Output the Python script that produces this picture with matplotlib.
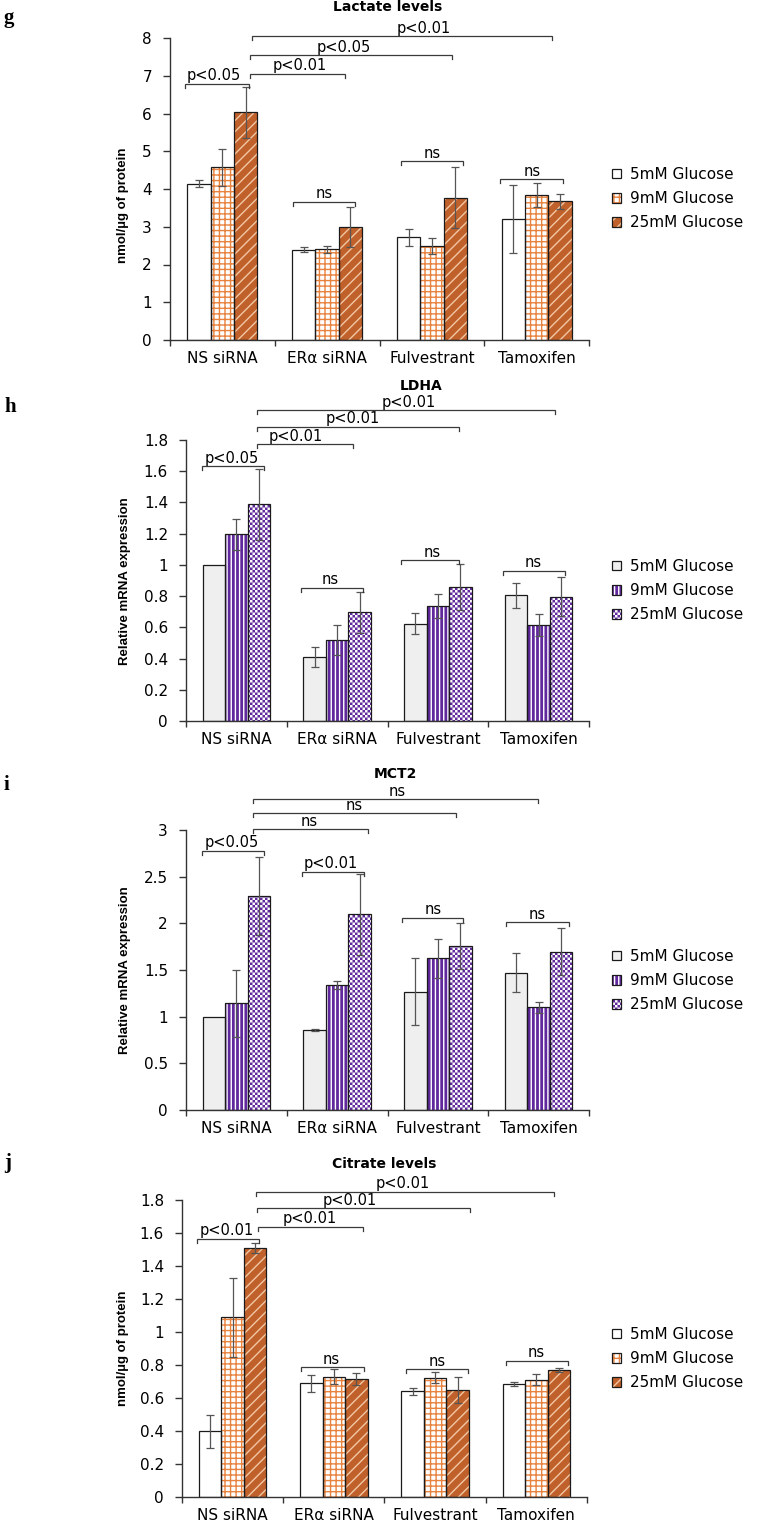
import numpy as np
import matplotlib
matplotlib.use('Agg')
import matplotlib.pyplot as plt
from matplotlib import hatch as mhatch
from matplotlib.path import Path
from matplotlib.legend_handler import HandlerTuple

# ---------------- data ----------------
categories = ['NS siRNA', 'ERα siRNA', 'Fulvestrant', 'Tamoxifen']
series_names = ['5mM Glucose', '9mM Glucose', '25mM Glucose']
nan = np.nan

lactate_5 = [4.14, 2.39, 2.72, 3.21]
lactate_9 = [4.57, 2.40, 2.50, 3.84]
lactate_25 = [6.03, 2.99, 3.77, 3.67]
lactate_5_err = [0.10, 0.07, 0.22, 0.90]
lactate_9_err = [0.49, 0.10, 0.21, 0.31]
lactate_25_err = [0.68, 0.52, 0.80, 0.20]
lactate_ticks = [0, 1, 2, 3, 4, 5, 6, 7, 8]
lactate_brackets = [(-0.358, 0.256, 6.79, 'p<0.05', -0.078),
                    (0.263, 1.17, 7.05, 'p<0.01', 0.734),
                    (0.263, 2.19, 7.54, 'p<0.05', 1.16),
                    (0.279, 3.15, 8.04, 'p<0.01', 1.925),
                    (0.677, 1.266, 3.66, 'ns', 0.97),
                    (1.71, 2.30, 4.74, 'ns', 2.0),
                    (2.65, 3.25, 4.26, 'ns', 2.96)]

ldha_5 = [1.00, 0.41, 0.624, 0.805]
ldha_9 = [1.197, 0.517, 0.737, 0.617]
ldha_25 = [1.387, 0.696, 0.857, 0.795]
ldha_5_err = [nan, 0.066, 0.068, 0.08]
ldha_9_err = [0.10, 0.097, 0.077, 0.071]
ldha_25_err = [0.23, 0.13, 0.146, 0.125]
ldha_ticks = [0, 0.2, 0.4, 0.6, 0.8, 1.0, 1.2, 1.4, 1.6, 1.8]
ldha_brackets = [(-0.344, 0.275, 1.632, 'p<0.05', -0.046),
                 (0.209, 1.162, 1.774, 'p<0.01', 0.593),
                 (0.209, 2.21, 1.885, 'p<0.01', 1.152),
                 (0.209, 3.16, 1.99, 'p<0.01', 1.715),
                 (0.639, 1.255, 0.855, 'ns', 0.93),
                 (1.636, 2.205, 1.03, 'ns', 1.94),
                 (2.646, 3.265, 0.962, 'ns', 2.95)]

mct2_5 = [1.0, 0.857, 1.268, 1.471]
mct2_9 = [1.143, 1.34, 1.625, 1.10]
mct2_25 = [2.296, 2.096, 1.76, 1.696]
mct2_5_err = [nan, 0.01, 0.36, 0.21]
mct2_9_err = [0.357, 0.043, 0.21, 0.06]
mct2_25_err = [0.42, 0.43, 0.245, 0.25]
mct2_ticks = [0, 0.5, 1, 1.5, 2, 2.5, 3]
mct2_brackets = [(-0.344, 0.275, 2.779, 'p<0.05', -0.046),
                 (0.649, 1.262, 2.554, 'p<0.01', 0.94),
                 (0.169, 1.305, 3.007, 'ns', 0.725),
                 (0.169, 2.18, 3.18, 'ns', 1.17),
                 (0.162, 2.99, 3.33, 'ns', 1.6),
                 (1.64, 2.245, 2.06, 'ns', 1.95),
                 (2.68, 3.30, 2.01, 'ns', 2.99)]

citrate_5 = [0.397, 0.688, 0.640, 0.684]
citrate_9 = [1.088, 0.730, 0.724, 0.712]
citrate_25 = [1.511, 0.716, 0.650, 0.771]
citrate_5_err = [0.097, 0.05, 0.023, 0.013]
citrate_9_err = [0.24, 0.044, 0.034, 0.036]
citrate_25_err = [0.03, 0.035, 0.08, 0.013]
citrate_ticks = [0, 0.2, 0.4, 0.6, 0.8, 1.0, 1.2, 1.4, 1.6, 1.8]
citrate_brackets = [(-0.353, 0.264, 1.564, 'p<0.01', -0.056),
                    (0.254, 1.287, 1.638, 'p<0.01', 0.759),
                    (0.241, 2.343, 1.749, 'p<0.01', 1.155),
                    (0.231, 3.178, 1.85, 'p<0.01', 1.683),
                    (0.677, 1.294, 0.785, 'ns', 0.974),
                    (1.71, 2.327, 0.775, 'ns', 2.02),
                    (2.696, 3.31, 0.825, 'ns', 2.997)]

# ---------------- style ----------------
W, H, DPI = 757, 1522, 100
plt.rcParams['font.family'] = ['DejaVu Sans']
plt.rcParams['hatch.linewidth'] = 1.0

ORANGE = '#E8833F'
BROWN = '#C0602A'
PEACH = '#F2C7A3'
PURPLE = '#60289C'
GREY = '#EFEFEF'
AX = '#333333'
ERRC = '#555555'


class CheckerHatch(mhatch.HatchPatternBase):
    """Filled checkerboard hatch (replaces the 'o' hatch)."""
    def __init__(self, hatch, density):
        self.n = hatch.count('o') * 8
        self.num_vertices = (self.n * self.n // 2) * 5

    def set_vertices_and_codes(self, vertices, codes):
        n = self.n
        s = 1.0 / n
        lw_unit = plt.rcParams['hatch.linewidth'] / 72.0
        sh = lw_unit / 2.0
        k = 0
        for i in range(n):
            for j in range(n):
                if (i + j) % 2 == 0:
                    x0, y0 = i * s + sh, j * s + sh
                    x1, y1 = (i + 1) * s - sh, (j + 1) * s - sh
                    vertices[k:k + 5] = [[x0, y0], [x1, y0], [x1, y1], [x0, y1], [x0, y0]]
                    codes[k] = Path.MOVETO
                    codes[k + 1:k + 4] = Path.LINETO
                    codes[k + 4] = Path.CLOSEPOLY
                    k += 5


mhatch._hatch_types = [CheckerHatch if t is mhatch.SmallCircles else t
                       for t in mhatch._hatch_types]

metab_styles = [dict(face='white', hatchc='white', hatch=None),
                dict(face='white', hatchc=ORANGE, hatch='+++'),
                dict(face=BROWN, hatchc=PEACH, hatch='///')]
mrna_styles = [dict(face=GREY, hatchc=GREY, hatch=None),
               dict(face=PURPLE, hatchc='white', hatch='||||'),
               dict(face='white', hatchc=PURPLE, hatch='ooooo')]

fig = plt.figure(figsize=(W / DPI, H / DPI), dpi=DPI)


def fx(x):
    return x / W


def fy(y):
    return 1 - y / H


def panel(rect_px, values, errs, ticks, styles, brackets):
    l, t, r, b = rect_px
    ax = fig.add_axes([fx(l), fy(b), (r - l) / W, (b - t) / H])
    x = np.arange(len(categories))
    bw = 0.223
    handles = []
    for k, (vals, err, st) in enumerate(zip(values, errs, styles)):
        xs = x + (k - 1) * bw
        h1 = ax.bar(xs, vals, bw, color=st['face'], edgecolor=st['hatchc'],
                    hatch=st['hatch'], linewidth=0, zorder=2)
        h2 = ax.bar(xs, vals, bw, facecolor='none', edgecolor='#1a1a1a',
                    linewidth=0.9, zorder=2.5)
        ax.errorbar(xs, vals, yerr=np.array(err, dtype=float), fmt='none',
                    ecolor=ERRC, elinewidth=0.9, capsize=3, capthick=0.9, zorder=3)
        handles.append((h1.patches[0], h2.patches[0]))
    ax.set_xlim(-0.5, len(categories) - 0.5)
    ax.set_ylim(ticks[0], ticks[-1])
    ax.set_yticks(ticks)
    ax.set_yticklabels(['{:g}'.format(v) for v in ticks])
    ax.set_xticks(np.arange(len(categories) + 1) - 0.5)
    ax.set_xticklabels([])
    ax.set_xticks(x, minor=True)
    ax.set_xticklabels(categories, minor=True)
    for s in ['top', 'right']:
        ax.spines[s].set_visible(False)
    for s in ['left', 'bottom']:
        ax.spines[s].set_color(AX)
        ax.spines[s].set_linewidth(1.0)
    ax.tick_params(axis='y', direction='out', length=5, width=1, color=AX,
                   labelsize=11, pad=8)
    ax.tick_params(axis='x', which='major', direction='out', length=4, width=1,
                   color=AX)
    ax.tick_params(axis='x', which='minor', length=0, labelsize=11, pad=8)
    # significance brackets
    ax_h_px = (b - t)
    drop = 4.0 * (ticks[-1] - ticks[0]) / ax_h_px
    for x0, x1, yb, lab, xt in brackets:
        ax.plot([x0, x0, x1, x1], [yb - drop, yb, yb, yb - drop], color='#3a3a3a',
                lw=0.9, clip_on=False, zorder=4, solid_joinstyle='miter')
        ax.annotate(lab, (xt, yb), xytext=(0, 2.5), textcoords='offset points',
                    ha='center', va='baseline', fontsize=10.5, annotation_clip=False)
    return ax, handles


def legend(handles, x_px, y_px):
    fig.legend(handles, series_names, loc='upper left',
               bbox_to_anchor=(fx(x_px), fy(y_px)), bbox_transform=fig.transFigure,
               frameon=False, fontsize=11, handlelength=0.6, handleheight=0.6,
               handletextpad=0.6, labelspacing=0.6, borderpad=0, borderaxespad=0,
               handler_map={tuple: HandlerTuple(ndivide=1)})


YL_FAMILY = ['Liberation Sans', 'DejaVu Sans']
YL_SIZE = 9.5

# g: Lactate
ax, hd = panel((170, 38, 589, 340), [lactate_5, lactate_9, lactate_25],
               [lactate_5_err, lactate_9_err, lactate_25_err], lactate_ticks,
               metab_styles, lactate_brackets)
legend(hd, 612, 167)
fig.text(fx(388), fy(7), 'Lactate levels', ha='center', va='center',
         fontsize=10, fontweight='bold')
fig.text(fx(123), fy(205), 'nmol/µg of protein', rotation=90, ha='center',
         va='center', fontsize=YL_SIZE, fontweight='bold', family=YL_FAMILY)

# h: LDHA
ax, hd = panel((186, 440, 589, 721), [ldha_5, ldha_9, ldha_25],
               [ldha_5_err, ldha_9_err, ldha_25_err], ldha_ticks,
               mrna_styles, ldha_brackets)
legend(hd, 612, 559)
fig.text(fx(421), fy(386), 'LDHA', ha='center', va='center',
         fontsize=10, fontweight='bold')
fig.text(fx(125), fy(581), 'Relative mRNA expression', rotation=90, ha='center',
         va='center', fontsize=YL_SIZE, fontweight='bold', family=YL_FAMILY)

# i: MCT2
ax, hd = panel((186, 830, 589, 1110), [mct2_5, mct2_9, mct2_25],
               [mct2_5_err, mct2_9_err, mct2_25_err], mct2_ticks,
               mrna_styles, mct2_brackets)
legend(hd, 612, 949)
fig.text(fx(395), fy(774), 'MCT2', ha='center', va='center',
         fontsize=10, fontweight='bold')
fig.text(fx(125), fy(970), 'Relative mRNA expression', rotation=90, ha='center',
         va='center', fontsize=YL_SIZE, fontweight='bold', family=YL_FAMILY)

# j: Citrate
ax, hd = panel((182, 1200, 587, 1497), [citrate_5, citrate_9, citrate_25],
               [citrate_5_err, citrate_9_err, citrate_25_err], citrate_ticks,
               metab_styles, citrate_brackets)
legend(hd, 612, 1327)
fig.text(fx(384), fy(1164), 'Citrate levels', ha='center', va='center',
         fontsize=10, fontweight='bold')
fig.text(fx(123), fy(1348), 'nmol/µg of protein', rotation=90, ha='center',
         va='center', fontsize=YL_SIZE, fontweight='bold', family=YL_FAMILY)

# panel letters
for lab, ybase in [('g', 23), ('h', 412), ('i', 790), ('j', 1168)]:
    fig.text(fx(4), fy(ybase), lab, ha='left', va='baseline', fontsize=15,
             fontweight='bold', family=['Liberation Serif', 'DejaVu Serif'])

fig.savefig('out.png', dpi=DPI)
